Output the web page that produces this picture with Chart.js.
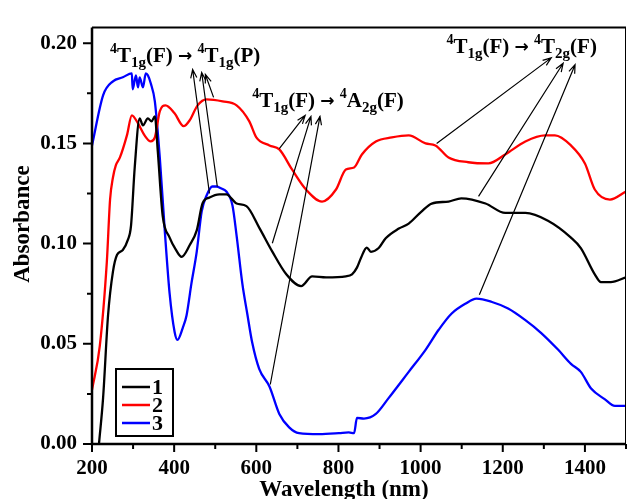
<!DOCTYPE html>
<html lang="en">
<head>
  <meta charset="UTF-8" />
  <title>Absorbance spectra</title>
  <script src="https://cdn.jsdelivr.net/npm/chart.js"></script>
  <style>
    body { margin: 0; background: #fff; }
    canvas { display: block; }
  </style>
</head>
<body>
  <canvas id="specChart" width="627" height="499"></canvas>

  <script>
    // axis ticks
    const xMajor = [200, 400, 600, 800, 1000, 1200, 1400];
    const xMinor = [300, 500, 700, 900, 1100, 1300, 1500];
    const yMajor = [0, 0.05, 0.10, 0.15, 0.20];
    const yMinor = [0.025, 0.075, 0.125, 0.175];

    // sample 1 (black)
    const nm1 = [217, 227, 239, 251, 261, 275, 287, 295, 304, 316, 324, 336, 345, 353, 360, 372, 389, 404, 418, 438,
      455, 469, 486, 510, 527, 552, 576, 607, 639, 673, 709, 736, 770, 818, 833, 845, 855, 869, 879, 898,
      915, 947, 971, 1002, 1027, 1068, 1099, 1158, 1206, 1255, 1310, 1366, 1390, 1424, 1439, 1463, 1500];
    const abs1 = [0.0, 0.023, 0.064, 0.086, 0.0944, 0.0968, 0.1017, 0.109, 0.138, 0.1625, 0.159, 0.1625, 0.161, 0.1635, 0.1465, 0.114, 0.103, 0.097, 0.0934, 0.0993,
      0.1066, 0.120, 0.123, 0.1246, 0.1246, 0.120, 0.1187, 0.108, 0.096, 0.0847, 0.0788, 0.0837, 0.0832, 0.0837, 0.0847, 0.088, 0.093, 0.098, 0.0959, 0.0978,
      0.1027, 0.1075, 0.110, 0.116, 0.120, 0.121, 0.1226, 0.120, 0.1153, 0.1153, 0.1114, 0.103, 0.0978, 0.0847, 0.0808, 0.0808, 0.0832];

    // sample 2 (red)
    const nm2 = [200, 219, 236, 244, 251, 258, 268, 285, 297, 312, 328, 343, 353, 365, 379, 401, 423, 438, 457, 479, 518, 552,
      583, 600, 632, 656, 687, 721, 760, 794, 818, 838, 857, 891, 930, 971, 1012, 1036, 1068, 1116, 1165, 1206,
      1255, 1303, 1327, 1366, 1400, 1424, 1461, 1500];
    const abs2 = [0.027, 0.049, 0.0905, 0.122, 0.133, 0.139, 0.143, 0.154, 0.164, 0.160, 0.154, 0.151, 0.153, 0.166, 0.169, 0.165, 0.1586, 0.1616, 0.169, 0.172, 0.171, 0.169,
      0.161, 0.153, 0.149, 0.147, 0.137, 0.127, 0.121, 0.127, 0.137, 0.138, 0.1445, 0.151, 0.153, 0.154, 0.150, 0.149, 0.143, 0.1406, 0.140, 0.1445,
      0.151, 0.154, 0.154, 0.149, 0.140, 0.127, 0.122, 0.126];

    // sample 3 (blue)
    const nm3 = [200, 227, 251, 275, 297, 299, 307, 312, 316, 324, 331, 336, 343, 353, 365, 377, 389, 401, 408, 421,
      430, 442, 455, 467, 479, 493, 503, 515, 527, 542, 552, 566, 578, 590, 607, 632, 656, 680, 704, 753,
      801, 825, 838, 845, 862, 891, 922, 971, 1012, 1044, 1075, 1109, 1136, 1172, 1213, 1255, 1293, 1335, 1366, 1390,
      1415, 1448, 1473, 1500];
    const abs3 = [0.149, 0.174, 0.181, 0.183, 0.185, 0.177, 0.184, 0.178, 0.183, 0.178, 0.185, 0.184, 0.180, 0.171, 0.143, 0.107, 0.075, 0.056, 0.052, 0.058,
      0.064, 0.080, 0.096, 0.116, 0.124, 0.1285, 0.1285, 0.1275, 0.126, 0.119, 0.104, 0.080, 0.065, 0.0506, 0.0375, 0.0287, 0.015, 0.0083, 0.0054, 0.0049,
      0.0054, 0.0058, 0.0054, 0.013, 0.0127, 0.015, 0.0229, 0.036, 0.047, 0.057, 0.065, 0.070, 0.0725, 0.071, 0.0676, 0.0618, 0.0555, 0.047, 0.040, 0.036,
      0.0277, 0.0224, 0.019, 0.019];

    const seriesNames = ['1', '2', '3'];
    const seriesColors = ['#000000', '#ff0000', '#0000ff'];

    // transition labels (start x in nm, baseline in absorbance)
    const labelText = ['^4T_1g(F) \u2192 ^4T_1g(P)', '^4T_1g(F) \u2192 ^4A_2g(F)', '^4T_1g(F) \u2192 ^4T_2g(F)'];
    const labelNm = [243.6, 590, 1063];
    const labelAbs = [0.1908, 0.1684, 0.1951];

    // arrows: from a band on a curve to its label
    const arrowFromNm = [486, 505, 496, 656, 639, 634, 1039, 1141, 1143];
    const arrowFromAbs = [0.125, 0.1285, 0.173, 0.1474, 0.1002, 0.0297, 0.150, 0.1236, 0.0745];
    const arrowToNm = [445, 467, 476, 719, 733, 755, 1318, 1347, 1376];
    const arrowToAbs = [0.1869, 0.1854, 0.1844, 0.164, 0.1635, 0.1635, 0.1927, 0.190, 0.1893];

    const serif = "'Liberation Serif', 'Times New Roman', serif";

    function toPoints(xs, ys) {
      return xs.map((x, i) => ({ x, y: ys[i] }));
    }

    // ^d = superscript digit, _xx = subscript, the rest normal text
    function drawTerm(ctx, x, y, spec) {
      const re = /\^(\d)|_(\d[a-z])|(\u2192)|([^\^_\u2192]+)/g;
      let m;
      ctx.textAlign = 'left';
      ctx.textBaseline = 'alphabetic';
      while ((m = re.exec(spec)) !== null) {
        let txt, dy = 0;
        if (m[1]) {
          ctx.font = 'bold 14px ' + serif; txt = m[1]; dy = -9;
        } else if (m[2]) {
          ctx.font = 'bold 15px ' + serif; txt = m[2]; dy = 5;
        } else if (m[3]) {
          ctx.font = "bold 17px 'DejaVu Sans', sans-serif"; txt = m[3]; dy = -1;
        } else {
          ctx.font = 'bold 21px ' + serif; txt = m[4];
        }
        ctx.fillText(txt, x, y + dy);
        x += ctx.measureText(txt).width;
      }
    }

    function drawArrow(ctx, x1, y1, x2, y2) {
      const a = Math.atan2(y2 - y1, x2 - x1);
      const h = 9;
      ctx.beginPath();
      ctx.moveTo(x1, y1);
      ctx.lineTo(x2, y2);
      ctx.moveTo(x2 - h * Math.cos(a - 0.35), y2 - h * Math.sin(a - 0.35));
      ctx.lineTo(x2, y2);
      ctx.lineTo(x2 - h * Math.cos(a + 0.35), y2 - h * Math.sin(a + 0.35));
      ctx.stroke();
    }

    const decorations = {
      id: 'decorations',
      afterDatasetsDraw(chart) {
        const { ctx, chartArea: area, scales: { x, y } } = chart;
        ctx.save();
        ctx.strokeStyle = '#000';
        ctx.fillStyle = '#000';

        // frame
        ctx.lineWidth = 1;
        ctx.beginPath();
        ctx.moveTo(area.right - 0.5, area.top);
        ctx.lineTo(area.right - 0.5, area.bottom);
        ctx.stroke();
        ctx.lineWidth = 2;
        ctx.beginPath();
        ctx.moveTo(area.left, area.top);
        ctx.lineTo(area.right, area.top);
        ctx.stroke();
        ctx.lineWidth = 2.5;
        ctx.beginPath();
        ctx.moveTo(area.left, area.top);
        ctx.lineTo(area.left, area.bottom);
        ctx.lineTo(area.right, area.bottom);
        ctx.stroke();

        // ticks
        ctx.lineWidth = 2;
        ctx.beginPath();
        xMajor.forEach(v => { const p = x.getPixelForValue(v); ctx.moveTo(p, area.bottom); ctx.lineTo(p, area.bottom + 8); });
        xMinor.forEach(v => { const p = x.getPixelForValue(v); ctx.moveTo(p, area.bottom); ctx.lineTo(p, area.bottom + 5); });
        yMajor.forEach(v => { const p = y.getPixelForValue(v); ctx.moveTo(area.left, p); ctx.lineTo(area.left - 9, p); });
        yMinor.forEach(v => { const p = y.getPixelForValue(v); ctx.moveTo(area.left, p); ctx.lineTo(area.left - 5, p); });
        ctx.stroke();

        // axis titles
        ctx.font = 'bold 23px ' + serif;
        ctx.textAlign = 'center';
        ctx.textBaseline = 'alphabetic';
        ctx.fillText('Wavelength (nm)', 344, 496);
        ctx.save();
        ctx.translate(29, 224);
        ctx.rotate(-Math.PI / 2);
        ctx.fillText('Absorbance', 0, 0);
        ctx.restore();

        // arrows and transition labels
        ctx.lineWidth = 1.2;
        arrowFromNm.forEach((v, i) => {
          drawArrow(ctx, x.getPixelForValue(v), y.getPixelForValue(arrowFromAbs[i]),
            x.getPixelForValue(arrowToNm[i]), y.getPixelForValue(arrowToAbs[i]));
        });
        labelText.forEach((t, i) => {
          drawTerm(ctx, x.getPixelForValue(labelNm[i]), y.getPixelForValue(labelAbs[i]), t);
        });

        // legend box
        const lx = 116, ly = 369;
        ctx.fillStyle = '#fff';
        ctx.fillRect(lx, ly, 57, 67);
        ctx.lineWidth = 2;
        ctx.strokeRect(lx, ly, 57, 67);
        ctx.font = 'bold 22px ' + serif;
        ctx.textAlign = 'left';
        ctx.textBaseline = 'middle';
        seriesNames.forEach((name, i) => {
          const ry = ly + 18 + i * 18;
          ctx.strokeStyle = seriesColors[i];
          ctx.lineWidth = 2.5;
          ctx.beginPath();
          ctx.moveTo(lx + 6, ry);
          ctx.lineTo(lx + 34, ry);
          ctx.stroke();
          ctx.fillStyle = '#000';
          ctx.fillText(name, lx + 36, ry + 1);
        });
        ctx.restore();
      }
    };

    const tickFont = { family: serif, weight: 'bold', size: 21 };

    new Chart(document.getElementById('specChart'), {
      type: 'line',
      data: {
        datasets: [
          { label: seriesNames[0], data: toPoints(nm1, abs1), borderColor: seriesColors[0] },
          { label: seriesNames[1], data: toPoints(nm2, abs2), borderColor: seriesColors[1] },
          { label: seriesNames[2], data: toPoints(nm3, abs3), borderColor: seriesColors[2] }
        ]
      },
      options: {
        responsive: false,
        animation: false,
        layout: { padding: { top: 17, right: 1, left: 0, bottom: 0 } },
        elements: {
          point: { radius: 0 },
          line: { borderWidth: 2.3, cubicInterpolationMode: 'monotone', fill: false }
        },
        plugins: {
          legend: { display: false },
          tooltip: { enabled: false }
        },
        scales: {
          x: {
            type: 'linear',
            min: 200,
            max: 1500,
            afterBuildTicks: s => { s.ticks = xMajor.map(v => ({ value: v })); },
            afterFit: s => { s.height = 55; },
            grid: { display: false, drawTicks: false },
            border: { display: false },
            ticks: { font: tickFont, color: '#000', padding: 12, maxRotation: 0, autoSkip: false, callback: v => String(v) }
          },
          y: {
            min: 0,
            max: 0.2078,
            afterBuildTicks: s => { s.ticks = yMajor.map(v => ({ value: v })); },
            afterFit: s => { s.width = 92; },
            grid: { display: false, drawTicks: false },
            border: { display: false },
            ticks: { font: tickFont, color: '#000', padding: 15, callback: v => v.toFixed(2) }
          }
        }
      },
      plugins: [decorations]
    });
  </script>
</body>
</html>
